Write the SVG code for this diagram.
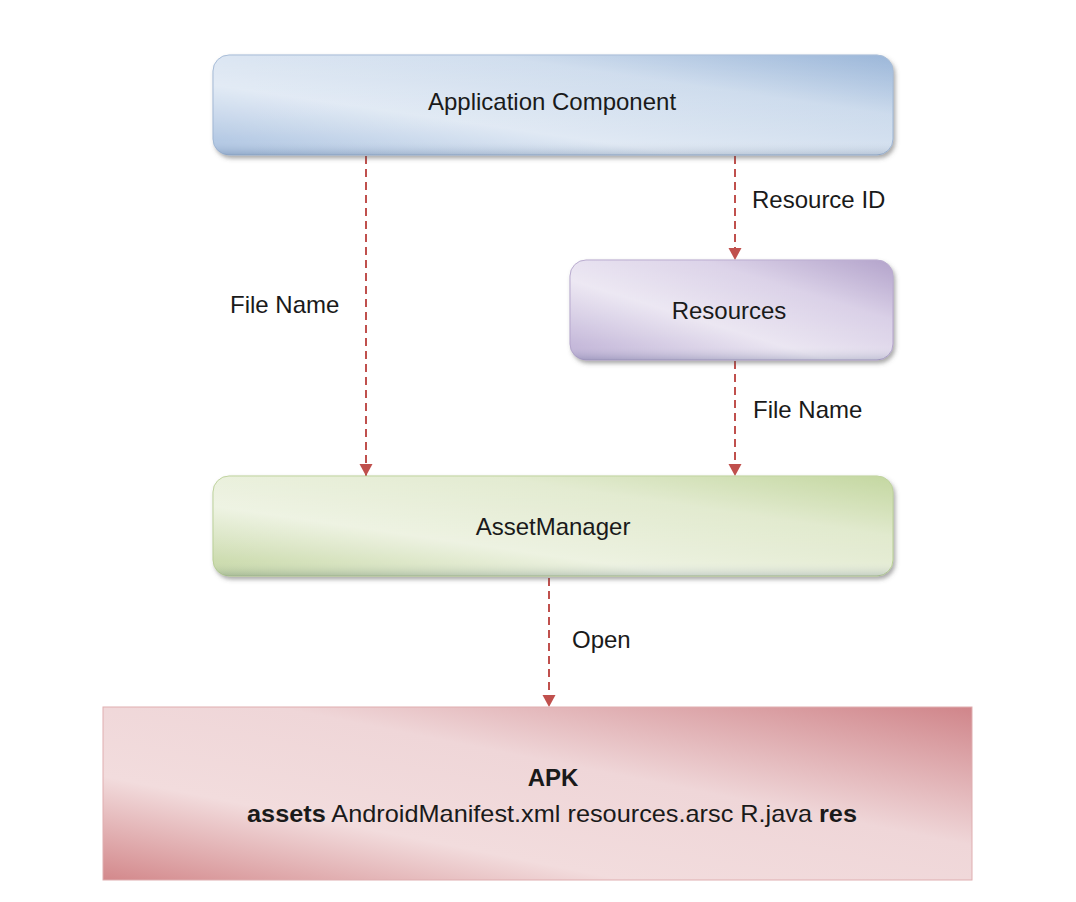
<svg xmlns="http://www.w3.org/2000/svg" width="1076" height="902" viewBox="0 0 1076 902">
<style>
.lbl{font-family:"Liberation Sans",Arial,sans-serif;font-size:24px;fill:#1a1a1a}
.node{font-family:"Liberation Sans",Arial,sans-serif;font-size:24px;fill:#1a1a1a;text-anchor:middle}
.conn{stroke:#c0504d;stroke-width:2;stroke-dasharray:8 5;fill:none}
</style>
<defs>
<marker id="arr" markerUnits="userSpaceOnUse" markerWidth="14" markerHeight="14" refX="12" refY="6.5" orient="auto">
<path d="M0,0 L12,6.5 L0,13 z" fill="#c0504d"/>
</marker>
<filter id="sh" x="-5%" y="-10%" width="110%" height="130%">
<feDropShadow dx="2" dy="3" stdDeviation="2" flood-color="#555" flood-opacity="0.5"/>
</filter>
<linearGradient id="gBlue" x1="0" y1="1" x2="1" y2="0">
<stop offset="0" stop-color="#a9c1e0"/>
<stop offset="0.35" stop-color="#e0e9f4"/>
<stop offset="0.7" stop-color="#cbdaec"/>
<stop offset="1" stop-color="#8eadd4"/>
</linearGradient>
<linearGradient id="gPurple" x1="0" y1="1" x2="1" y2="0">
<stop offset="0" stop-color="#bcaed4"/>
<stop offset="0.4" stop-color="#ebe6f2"/>
<stop offset="0.7" stop-color="#d8cee6"/>
<stop offset="1" stop-color="#a997c4"/>
</linearGradient>
<linearGradient id="gGreen" x1="0" y1="1" x2="1" y2="0">
<stop offset="0" stop-color="#c4d6a2"/>
<stop offset="0.35" stop-color="#edf2e1"/>
<stop offset="0.7" stop-color="#e0e9cc"/>
<stop offset="1" stop-color="#bcd294"/>
</linearGradient>
<linearGradient id="gRed" x1="0" y1="1" x2="1" y2="0">
<stop offset="0" stop-color="#d3888b"/>
<stop offset="0.3" stop-color="#f2dcdd"/>
<stop offset="0.6" stop-color="#efd6d8"/>
<stop offset="1" stop-color="#d0858a"/>
</linearGradient>
<linearGradient id="gloss" x1="0" y1="0" x2="0" y2="1">
<stop offset="0" stop-color="#ffffff" stop-opacity="0.12"/>
<stop offset="0.85" stop-color="#ffffff" stop-opacity="0"/>
<stop offset="1" stop-color="#1f3a5f" stop-opacity="0.18"/>
</linearGradient>
</defs>

<g id="connectors">
<line class="conn" x1="366" y1="156" x2="366" y2="476" marker-end="url(#arr)"/>
<line class="conn" x1="735" y1="156" x2="735" y2="260" marker-end="url(#arr)"/>
<line class="conn" x1="735" y1="361" x2="735" y2="476" marker-end="url(#arr)"/>
<line class="conn" x1="549" y1="578" x2="549" y2="707" marker-end="url(#arr)"/>
<text class="lbl" x="230" y="313">File Name</text>
<text class="lbl" x="752" y="208">Resource ID</text>
<text class="lbl" x="753" y="418">File Name</text>
<text class="lbl" x="572" y="648">Open</text>
</g>

<g id="app-component">
<rect x="213" y="55" width="680" height="100" rx="16" fill="url(#gBlue)" stroke="#9fb6d4" stroke-width="1" filter="url(#sh)"/>
<rect x="213" y="55" width="680" height="100" rx="16" fill="url(#gloss)"/>
<text class="node" x="552" y="110">Application Component</text>
</g>

<g id="resources">
<rect x="570" y="260" width="323" height="100" rx="16" fill="url(#gPurple)" stroke="#b3a4cb" stroke-width="1" filter="url(#sh)"/>
<rect x="570" y="260" width="323" height="100" rx="16" fill="url(#gloss)"/>
<text class="node" x="729" y="319">Resources</text>
</g>

<g id="asset-manager">
<rect x="213" y="476" width="680" height="100" rx="16" fill="url(#gGreen)" stroke="#b9cf95" stroke-width="1" filter="url(#sh)"/>
<rect x="213" y="476" width="680" height="100" rx="16" fill="url(#gloss)"/>
<text class="node" x="553" y="535">AssetManager</text>
</g>

<g id="apk">
<rect x="103" y="707" width="869" height="173" fill="url(#gRed)" stroke="#dfaeb0" stroke-width="1"/>
<text class="node" x="553" y="786" font-weight="bold">APK</text>
<text class="node" x="552" y="822" textLength="610" lengthAdjust="spacingAndGlyphs"><tspan font-weight="bold">assets</tspan> AndroidManifest.xml resources.arsc R.java <tspan font-weight="bold">res</tspan></text>
</g>
</svg>
